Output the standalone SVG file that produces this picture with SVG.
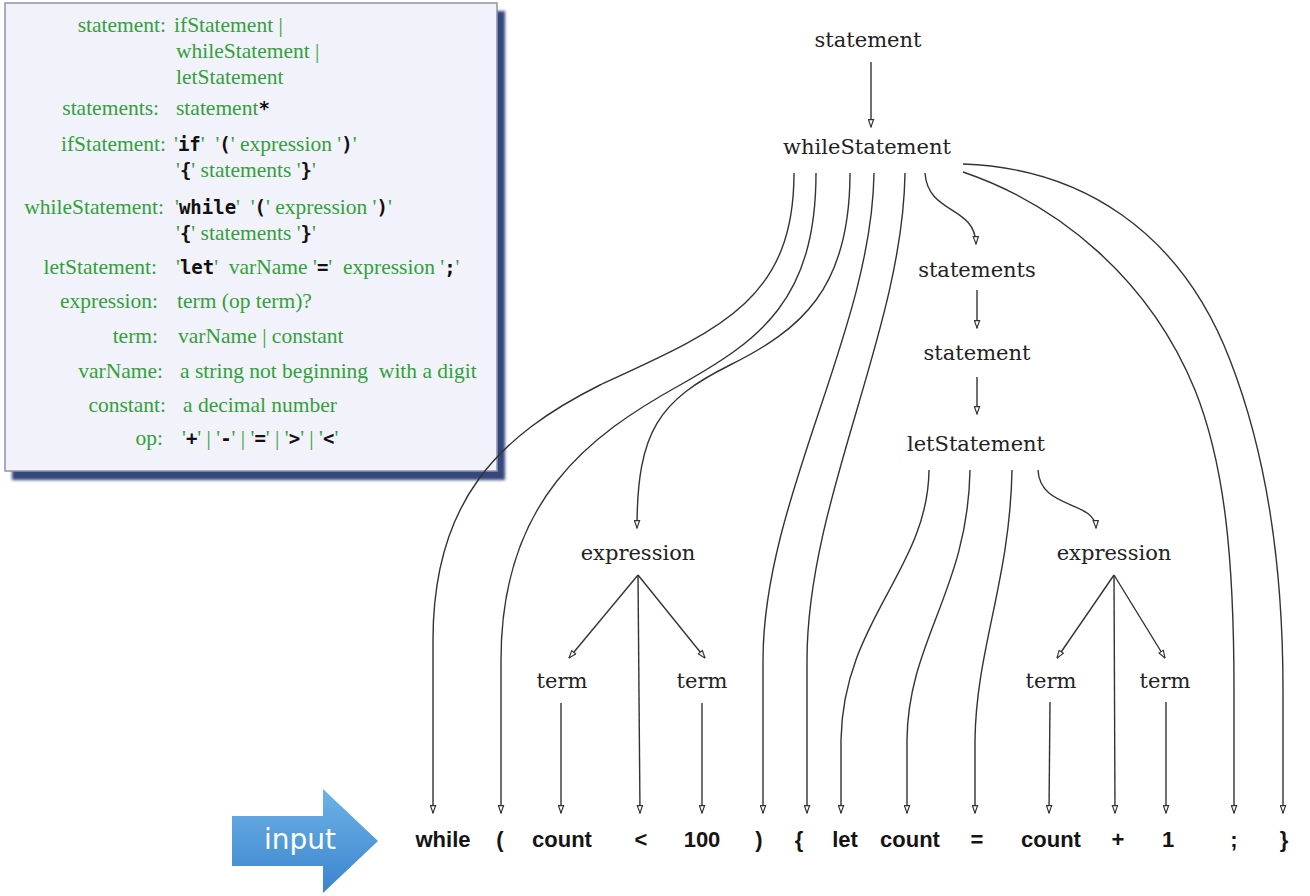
<svg xmlns="http://www.w3.org/2000/svg" width="1310" height="896" viewBox="0 0 1310 896">
<style>
.g{font-family:"Liberation Serif","Times New Roman",serif;font-size:21.5px;fill:#33a03a}
.lab{text-anchor:end}
.k{font-family:"DejaVu Sans Mono",monospace;font-weight:bold;font-size:19px;fill:#111}
.nd{font-family:"DejaVu Serif",serif;font-size:21px;fill:#222;text-anchor:middle}
.tok{font-family:"Liberation Sans",Arial,sans-serif;font-weight:bold;font-size:22px;fill:#151515;text-anchor:middle}
.c{fill:none;stroke:#333;stroke-width:1.4;marker-end:url(#ah)}
</style>
<defs>
<marker id="ah" viewBox="0 0 10 8" refX="9.5" refY="4" markerWidth="9" markerHeight="7" markerUnits="userSpaceOnUse" orient="auto">
<path d="M1,1 L9.5,4 L1,7 Z" fill="#fff" stroke="#333" stroke-width="1.3"/>
</marker>
<linearGradient id="blue" x1="0" y1="0" x2="0" y2="1">
<stop offset="0" stop-color="#6db2e8"/>
<stop offset="1" stop-color="#3b84cd"/>
</linearGradient>
<filter id="blur" x="-5%" y="-5%" width="110%" height="110%"><feGaussianBlur stdDeviation="1.5"/></filter>
</defs>
<rect width="1310" height="896" fill="#fff"/>

<g id="grammar">
<rect x="12" y="11" width="493" height="469" fill="#34467c" filter="url(#blur)"/>
<rect x="5" y="3" width="492" height="468" fill="#f2f2fb" stroke="#8e93ad" stroke-width="1.5"/>
<text class="g lab" x="166" y="32">statement:</text>
<text class="g" x="174" y="32">ifStatement |</text>
<text class="g" x="176" y="58">whileStatement |</text>
<text class="g" x="176" y="84">letStatement</text>
<text class="g lab" x="159" y="115">statements:</text>
<text class="g" x="176" y="115">statement<tspan class="k">*</tspan></text>
<text class="g lab" x="166" y="151">ifStatement:</text>
<text class="g" x="174" y="151" xml:space="preserve">'<tspan class="k">if</tspan>'  '<tspan class="k">(</tspan>' expression '<tspan class="k">)</tspan>'</text>
<text class="g" x="176" y="177">'<tspan class="k">{</tspan>' statements '<tspan class="k">}</tspan>'</text>
<text class="g lab" x="164" y="214">whileStatement:</text>
<text class="g" x="175" y="214" xml:space="preserve">'<tspan class="k">while</tspan>'  '<tspan class="k">(</tspan>' expression '<tspan class="k">)</tspan>'</text>
<text class="g" x="176" y="240">'<tspan class="k">{</tspan>' statements '<tspan class="k">}</tspan>'</text>
<text class="g lab" x="157" y="274">letStatement:</text>
<text class="g" x="176" y="274" xml:space="preserve">'<tspan class="k">let</tspan>'  varName '<tspan class="k">=</tspan>'  expression '<tspan class="k">;</tspan>'</text>
<text class="g lab" x="158" y="308">expression:</text>
<text class="g" x="177" y="308">term (op term)?</text>
<text class="g lab" x="158" y="343">term:</text>
<text class="g" x="178" y="343">varName | constant</text>
<text class="g lab" x="163" y="378">varName:</text>
<text class="g" x="180" y="378" xml:space="preserve">a string not beginning  with a digit</text>
<text class="g lab" x="166" y="412">constant:</text>
<text class="g" x="183" y="412">a decimal number</text>
<text class="g lab" x="163" y="445">op:</text>
<text class="g" x="182" y="445">'<tspan class="k">+</tspan>' | '<tspan class="k">-</tspan>' | '<tspan class="k">=</tspan>' | '<tspan class="k">&gt;</tspan>' | '<tspan class="k">&lt;</tspan>'</text>
</g>

<g id="connectors">
<path class="c" d="M871,62 L871,127"/>
<path class="c" d="M794,173 C794,300 720,330 600,385 C500,435 433,500 433,640 L433,813"/>
<path class="c" d="M816,173 C816,300 760,340 680,385 C590,435 501,500 501,660 L501,813"/>
<path class="c" d="M850,173 C850,290 800,330 730,365 C660,400 637,430 637,528"/>
<path class="c" d="M874,173 C872,330 763,500 763,660 L763,813"/>
<path class="c" d="M905,173 C903,330 807,500 807,660 L807,813"/>
<path class="c" d="M925,173 C928,215 975,205 976,244"/>
<path class="c" d="M963,172 C1060,205 1150,280 1195,390 C1225,465 1234,560 1234,690 L1234,813"/>
<path class="c" d="M963,164 C1080,168 1180,230 1230,360 C1265,450 1283,560 1283,690 L1283,813"/>
<path class="c" d="M977,290 L977,328"/>
<path class="c" d="M977,377 L977,414"/>
<path class="c" d="M929,470 C928,570 843,620 841,740 L841,813"/>
<path class="c" d="M970,470 C968,590 908,640 907,740 L907,813"/>
<path class="c" d="M1012,470 C1010,580 976,650 975,740 L975,813"/>
<path class="c" d="M1038,470 C1040,510 1095,500 1096,528"/>
<path class="c" d="M638,575 L569,658"/>
<path class="c" d="M638,575 L705,658"/>
<path class="c" d="M638,575 L640,813"/>
<path class="c" d="M561,703 L561,813"/>
<path class="c" d="M702,703 L702,813"/>
<path class="c" d="M1114,575 L1057,658"/>
<path class="c" d="M1114,575 L1165,658"/>
<path class="c" d="M1114,575 L1115,813"/>
<path class="c" d="M1050,702 L1049,813"/>
<path class="c" d="M1166,702 L1166,813"/>
</g>

<g id="n-statement"><text class="nd" x="868" y="47">statement</text></g>
<g id="n-whileStatement"><text class="nd" x="867" y="154">whileStatement</text></g>
<g id="n-statements"><text class="nd" x="977" y="277">statements</text></g>
<g id="n-statement2"><text class="nd" x="977" y="360">statement</text></g>
<g id="n-letStatement"><text class="nd" x="976" y="451">letStatement</text></g>
<g id="n-expression1"><text class="nd" x="638" y="560">expression</text></g>
<g id="n-expression2"><text class="nd" x="1114" y="560">expression</text></g>
<g id="n-term1"><text class="nd" x="562" y="688">term</text></g>
<g id="n-term2"><text class="nd" x="702" y="688">term</text></g>
<g id="n-term3"><text class="nd" x="1051" y="688">term</text></g>
<g id="n-term4"><text class="nd" x="1165" y="688">term</text></g>

<g id="tokens">
<text class="tok" x="443" y="847">while</text>
<text class="tok" x="500" y="847">(</text>
<text class="tok" x="562" y="847">count</text>
<text class="tok" x="641" y="847">&lt;</text>
<text class="tok" x="702" y="847">100</text>
<text class="tok" x="759" y="847">)</text>
<text class="tok" x="799" y="847">{</text>
<text class="tok" x="845" y="847">let</text>
<text class="tok" x="910" y="847">count</text>
<text class="tok" x="977" y="847">=</text>
<text class="tok" x="1051" y="847">count</text>
<text class="tok" x="1118" y="847">+</text>
<text class="tok" x="1168" y="847">1</text>
<text class="tok" x="1234" y="847">;</text>
<text class="tok" x="1284" y="847">}</text>
</g>

<g id="input-arrow">
<path d="M232,816 L323,816 L323,789 L378,841 L323,893 L323,866 L232,866 Z" fill="url(#blue)"/>
<text x="300" y="849" font-family="DejaVu Sans, sans-serif" font-size="28" fill="#fff" text-anchor="middle">input</text>
</g>
</svg>
